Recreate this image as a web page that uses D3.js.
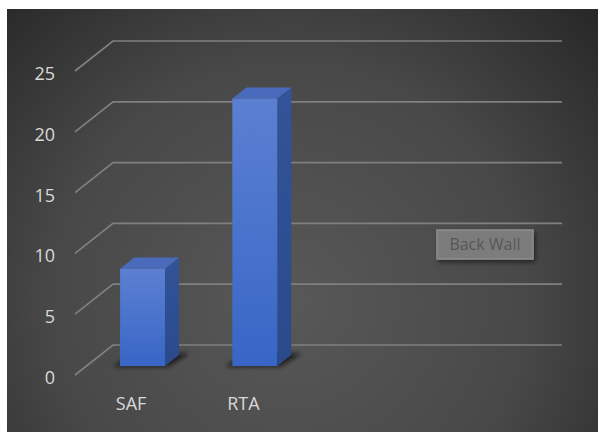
<!DOCTYPE html>
<html>
<head>
<meta charset="utf-8">
<script src="https://cdn.jsdelivr.net/npm/d3@7"></script>
<style>
html,body{margin:0;padding:0;background:#fff;}
svg{display:block;}
</style>
</head>
<body>
<svg id="chart" width="598" height="432"></svg>
<script>
// ---- data ----
const categories = ["SAF", "RTA"];
const values = [8, 22];
const slots = [0, 1, 2, 3];            // category slots on the axis (last two empty)
const yTicks = [0, 5, 10, 15, 20, 25];
const wallLabel = "Back Wall";

const svg = d3.select("#chart");
const defs = svg.append("defs");

// background gradient
const bg = defs.append("radialGradient").attr("id", "bg")
  .attr("gradientUnits", "userSpaceOnUse")
  .attr("cx", 290).attr("cy", 300).attr("r", 430);
bg.append("stop").attr("offset", "0").attr("stop-color", "#585858");
bg.append("stop").attr("offset", "0.55").attr("stop-color", "#484848");
bg.append("stop").attr("offset", "1").attr("stop-color", "#262626");

const fg = defs.append("linearGradient").attr("id", "front").attr("x1", 0).attr("y1", 0).attr("x2", 0).attr("y2", 1);
fg.append("stop").attr("offset", "0").attr("stop-color", "#5b80d2");
fg.append("stop").attr("offset", "1").attr("stop-color", "#3866c6");
const sg = defs.append("linearGradient").attr("id", "side").attr("x1", 0).attr("y1", 0).attr("x2", 0).attr("y2", 1);
sg.append("stop").attr("offset", "0").attr("stop-color", "#33539a");
sg.append("stop").attr("offset", "1").attr("stop-color", "#2a4a8c");

const blur = defs.append("filter").attr("id", "blur").attr("x", "-50%").attr("y", "-50%").attr("width", "200%").attr("height", "200%");
blur.append("feGaussianBlur").attr("stdDeviation", 2);
const sh = defs.append("filter").attr("id", "boxshadow").attr("x", "-20%").attr("y", "-20%").attr("width", "140%").attr("height", "160%");
sh.append("feDropShadow").attr("dx", 2).attr("dy", 3).attr("stdDeviation", 2).attr("flood-color", "#000").attr("flood-opacity", 0.45);

svg.append("rect").attr("x", 7).attr("y", 9).attr("width", 591).attr("height", 423).attr("fill", "url(#bg)");

// ---- scales / projection ----
const depthX = 38, depthY = -30;
const y = d3.scaleLinear().domain([0, 25]).range([375, 71]);
const x = d3.scaleBand().domain(slots).range([75, 524]).paddingInner(0.6).paddingOuter(0.3);
const P = (px, v, z) => [px + depthX * z, y(v) + depthY * z];

// ---- gridlines: side wall diagonal + back wall horizontal ----
const grid = svg.append("g").attr("stroke", "#808080").attr("stroke-width", 1.7).attr("fill", "none");
yTicks.forEach(t => {
  const a = P(75, t, 0), b = P(75, t, 1), c = P(524, t, 1);
  grid.append("path").attr("d", `M${a[0]},${a[1]}L${b[0]},${b[1]}L${c[0]},${c[1]}`);
});

// tick labels
svg.append("g").selectAll("text").data(yTicks).join("text")
  .attr("x", 55).attr("y", d => y(d) + 2)
  .attr("text-anchor", "end").attr("dominant-baseline", "central")
  .attr("font-family", "'Open Sans', 'Noto Sans', sans-serif").attr("font-size", 18)
  .attr("fill", "#d9d9d9").text(d => d);

// back wall label
const wl = svg.append("g").attr("filter", "url(#boxshadow)");
wl.append("rect").attr("x", 437).attr("y", 230).attr("width", 96).attr("height", 29)
  .attr("fill", "#7b7b7b").attr("stroke", "#8e8e8e").attr("stroke-width", 1.5);
svg.append("text").attr("x", 485).attr("y", 244).attr("text-anchor", "middle").attr("dominant-baseline", "central")
  .attr("font-family", "'Open Sans', 'Noto Sans', sans-serif").attr("font-size", 16)
  .attr("fill", "#575757").text(wallLabel);

// ---- bars ----
const z0 = 0.3, z1 = 0.67;
const bars = svg.append("g");
categories.forEach((cat, i) => {
  const v = values[i];
  const x0 = x(slots[i]), x1 = x0 + x.bandwidth();
  // shadow
  const s1 = P(x0 - 6, 0, z0 - 0.02), s2 = P(x1 + 4, 0, z0 - 0.02), s3 = P(x1 + 8, 0, z1 + 0.05), s4 = P(x0 - 2, 0, z1 + 0.05);
  bars.append("path").attr("d", `M${s1}L${s2}L${s3}L${s4}Z`).attr("fill", "#111").attr("opacity", 0.8).attr("filter", "url(#blur)");
  const fTL = P(x0, v, z0), fTR = P(x1, v, z0), fBR = P(x1, 0, z0), fBL = P(x0, 0, z0);
  const bTL = P(x0, v, z1), bTR = P(x1, v, z1), bBR = P(x1, 0, z1);
  bars.append("path").attr("d", `M${fTR}L${bTR}L${bBR}L${fBR}Z`).attr("fill", "url(#side)");
  bars.append("path").attr("d", `M${fTL}L${bTL}L${bTR}L${fTR}Z`).attr("fill", "#4a6bbb");
  bars.append("path").attr("d", `M${fTL}L${fTR}L${fBR}L${fBL}Z`).attr("fill", "url(#front)");
});

// category labels
svg.append("g").selectAll("text").data(categories).join("text")
  .attr("x", (d, i) => x(slots[i]) + x.bandwidth() / 2)
  .attr("y", 403).attr("text-anchor", "middle").attr("dominant-baseline", "central")
  .attr("font-family", "'Open Sans', 'Noto Sans', sans-serif").attr("font-size", 18)
  .attr("fill", "#d9d9d9").text(d => d);
</script>
</body>
</html>
